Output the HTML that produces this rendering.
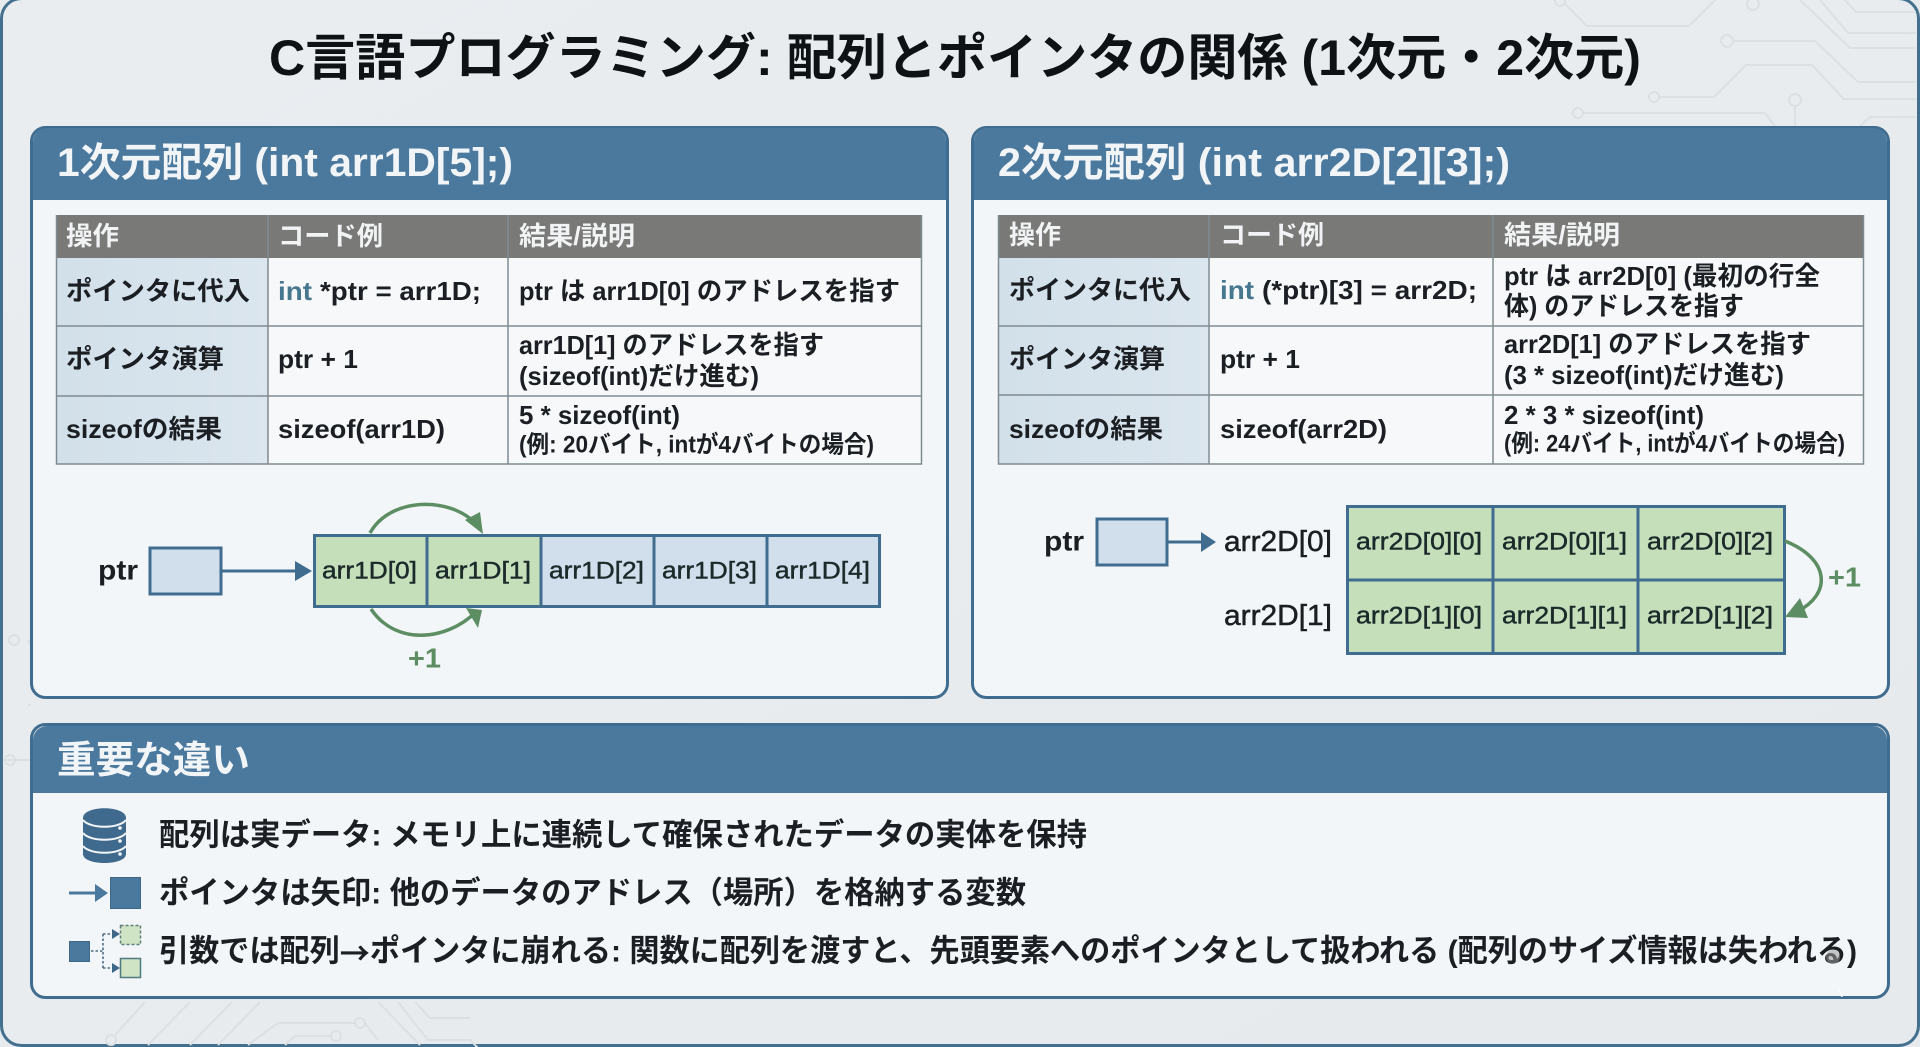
<!DOCTYPE html>
<html lang="ja"><head><meta charset="utf-8"><title>C言語プログラミング</title>
<style>
html,body{margin:0;padding:0;width:1920px;height:1047px;overflow:hidden;background:#e8ebee}
svg{display:block}
text{font-family:"Liberation Sans","Noto Sans CJK JP",sans-serif;font-weight:700;fill:#1b1f23;dominant-baseline:central}
.t{font-size:26px}
.s{font-size:24px}
.h{font-size:26px;fill:#f1f3f4}
.p{font-size:40px;fill:#f1f5f8}
.c{font-size:24px;font-weight:400;fill:#1b2a2a;stroke:#1b2a2a;stroke-width:.45px}
.l{font-size:30px}
.m{font-weight:400;stroke:#1b1f23;stroke-width:.5px}
.g{fill:#5d8d62;font-size:30px}
.tr{fill:none;stroke:#dbe0e4;stroke-width:2}
</style></head><body>
<svg width="1920" height="1047" viewBox="0 0 1920 1047" xmlns="http://www.w3.org/2000/svg">
<defs>
<linearGradient id="fc" x1="0" x2="1" y1="0" y2="0"><stop offset="0" stop-color="#d2e0ea"/><stop offset="1" stop-color="#dbe6ee"/></linearGradient>
<linearGradient id="bg" x1="0" x2="1" y1="0" y2="1"><stop offset="0" stop-color="#e9edf0"/><stop offset="1" stop-color="#e7eaec"/></linearGradient>
</defs>
<rect x="1.5" y="-1.5" width="1917" height="1047" rx="20" fill="url(#bg)" stroke="#44708f" stroke-width="3"/>
<!-- circuit traces -->
<g>
<path class="tr" d="M1565,4L1587,26H1689L1715,0"/><circle class="tr" cx="1560" cy="1" r="5"/><circle class="tr" cx="1753" cy="4" r="6"/>
<path class="tr" d="M1800,0L1850,48H1916M1820,0L1848,33H1916M1845,0L1856,12H1916"/>
<circle class="tr" cx="1727" cy="41" r="6"/><path class="tr" d="M1733,41H1815L1858,82H1916"/>
<circle class="tr" cx="1654" cy="97" r="5"/><path class="tr" d="M1660,97H1714L1746,65H1812L1844,99H1916"/>
<circle class="tr" cx="1578" cy="113" r="5"/><path class="tr" d="M1584,113H1765L1775,126"/><circle class="tr" cx="1795" cy="100" r="6"/><path class="tr" d="M1795,106V126"/><path class="tr" d="M1860,126L1870,117H1916"/>
<path class="tr" d="M145,1002L115,1035"/><circle class="tr" cx="111" cy="1040" r="5"/>
<path class="tr" d="M190,1002L148,1045M232,1002L190,1045M260,1002L218,1045M248,1045L278,1023H355"/><circle class="tr" cx="360" cy="1023" r="5"/>
<path class="tr" d="M285,1045L295,1036H330"/><circle class="tr" cx="336" cy="1036" r="5"/><path class="tr" d="M365,1023L378,1040M378,1002L420,1045M398,1002L428,1040H470L480,1050M415,1002L430,1018H470"/>
<path class="tr" d="M28,640L31,645M28,705H31M5,760H30"/><circle class="tr" cx="14" cy="640" r="5"/><circle class="tr" cx="10" cy="760" r="5"/>
</g>
<text x="269" y="58" style="font-size:50px;fill:#0f1214" textLength="1372" lengthAdjust="spacingAndGlyphs">C言語プログラミング: 配列とポインタの関係 (1次元・2次元)</text>

<!-- Panel 1 -->
<rect x="31.5" y="127.5" width="916" height="570" rx="14" fill="#f3f6f8" stroke="#406d8f" stroke-width="3"/>
<path d="M33,200V142a14,14 0 0 1 14,-14H932a14,14 0 0 1 14,14V200Z" fill="#4b789d"/>
<text class="p" x="57" y="163" textLength="456" lengthAdjust="spacingAndGlyphs">1次元配列 (int arr1D[5];)</text>
<!-- Table 1 -->
<rect x="56" y="215" width="866" height="43" fill="#797978"/>
<rect x="56" y="258" width="212" height="206" fill="url(#fc)"/>
<rect x="268" y="258" width="654" height="206" fill="#f6f8f9"/>
<g stroke="#7f8a91" stroke-width="1.5" fill="none">
<path d="M56.5,215V464H921.5V215M56,326H922M56,396H922M268,215V464M508,215V464"/>
</g>
<text class="h" x="66" y="236" textLength="53" lengthAdjust="spacingAndGlyphs">操作</text>
<text class="h" x="278" y="236" textLength="105" lengthAdjust="spacingAndGlyphs">コード例</text>
<text class="h" x="519" y="236" textLength="116" lengthAdjust="spacingAndGlyphs">結果/説明</text>
<text class="t" x="66" y="291" textLength="184" lengthAdjust="spacingAndGlyphs">ポインタに代入</text>
<text class="t" x="278" y="291" style="fill:#47768f" textLength="34" lengthAdjust="spacingAndGlyphs">int</text>
<text class="t" x="320" y="291" textLength="161" lengthAdjust="spacingAndGlyphs">*ptr = arr1D;</text>
<text class="t" x="519" y="291" textLength="381" lengthAdjust="spacingAndGlyphs">ptr は arr1D[0] のアドレスを指す</text>
<text class="t" x="66" y="359" textLength="158" lengthAdjust="spacingAndGlyphs">ポインタ演算</text>
<text class="t" x="278" y="359" textLength="80" lengthAdjust="spacingAndGlyphs">ptr + 1</text>
<text class="t" x="519" y="345" textLength="305" lengthAdjust="spacingAndGlyphs">arr1D[1] のアドレスを指す</text>
<text class="t" x="519" y="376" textLength="240" lengthAdjust="spacingAndGlyphs">(sizeof(int)だけ進む)</text>
<text class="t" x="66" y="429" textLength="156" lengthAdjust="spacingAndGlyphs">sizeofの結果</text>
<text class="t" x="278" y="429" textLength="167" lengthAdjust="spacingAndGlyphs">sizeof(arr1D)</text>
<text class="t" x="519" y="415" textLength="161" lengthAdjust="spacingAndGlyphs">5 * sizeof(int)</text>
<text class="s" x="519" y="445" textLength="355" lengthAdjust="spacingAndGlyphs">(例: 20バイト, intが4バイトの場合)</text>
<!-- Diagram 1 -->
<text class="l" x="98" y="570" textLength="40" lengthAdjust="spacingAndGlyphs" style="font-size:28px">ptr</text>
<rect x="150" y="548" width="71" height="46" fill="#d0dfeb" stroke="#406d8f" stroke-width="3"/>
<path d="M222,571H300" stroke="#406d8f" stroke-width="3"/><path d="M295,561L312,571L295,581Z" fill="#406d8f"/>
<rect x="314.5" y="535.5" width="112" height="71" fill="#c6dfbb"/>
<rect x="427" y="535.5" width="114" height="71" fill="#c6dfbb"/>
<rect x="541" y="535.5" width="339" height="71" fill="#d0dfeb"/>
<g fill="none" stroke="#406d8f" stroke-width="3"><rect x="314.5" y="535.5" width="565" height="71"/><path d="M427,535V607M541,535V607M654,535V607M767,535V607"/></g>
<g fill="none" stroke="#5d8d62" stroke-width="3.5">
<path d="M370,533C390,497 450,496 476,524"/>
<path d="M371,609C395,645 445,642 476,612"/>
</g>
<path d="M465,520L480,512L483,534Z" fill="#5d8d62"/>
<path d="M466,608L482,610L478,628Z" fill="#5d8d62"/>
<text class="c" x="322" y="571" textLength="95" lengthAdjust="spacingAndGlyphs">arr1D[0]</text>
<text class="c" x="435" y="571" textLength="96" lengthAdjust="spacingAndGlyphs">arr1D[1]</text>
<text class="c" x="549" y="571" textLength="95" lengthAdjust="spacingAndGlyphs">arr1D[2]</text>
<text class="c" x="662" y="571" textLength="95" lengthAdjust="spacingAndGlyphs">arr1D[3]</text>
<text class="c" x="775" y="571" textLength="95" lengthAdjust="spacingAndGlyphs">arr1D[4]</text>
<text x="408" y="658" textLength="33" lengthAdjust="spacingAndGlyphs" style="font-size:28px;fill:#5d8d62">+1</text>

<!-- Panel 2 -->
<rect x="972.5" y="127.5" width="916" height="570" rx="14" fill="#f3f6f8" stroke="#406d8f" stroke-width="3"/>
<path d="M974,200V142a14,14 0 0 1 14,-14H1873a14,14 0 0 1 14,14V200Z" fill="#4b789d"/>
<text class="p" x="998" y="163" textLength="512" lengthAdjust="spacingAndGlyphs">2次元配列 (int arr2D[2][3];)</text>
<!-- Table 2 -->
<rect x="998" y="215" width="866" height="43" fill="#797978"/>
<rect x="998" y="258" width="211" height="206" fill="url(#fc)"/>
<rect x="1209" y="258" width="655" height="206" fill="#f6f8f9"/>
<g stroke="#7f8a91" stroke-width="1.5" fill="none">
<path d="M998.5,215V464H1863.5V215M998,326H1864M998,395H1864M1209,215V464M1493,215V464"/>
</g>
<text class="h" x="1009" y="235" textLength="52" lengthAdjust="spacingAndGlyphs">操作</text>
<text class="h" x="1220" y="235" textLength="104" lengthAdjust="spacingAndGlyphs">コード例</text>
<text class="h" x="1504" y="235" textLength="116" lengthAdjust="spacingAndGlyphs">結果/説明</text>
<text class="t" x="1009" y="290" textLength="182" lengthAdjust="spacingAndGlyphs">ポインタに代入</text>
<text class="t" x="1220" y="290" style="fill:#47768f" textLength="34" lengthAdjust="spacingAndGlyphs">int</text>
<text class="t" x="1262" y="290" textLength="215" lengthAdjust="spacingAndGlyphs">(*ptr)[3] = arr2D;</text>
<text class="t" x="1504" y="276" textLength="316" lengthAdjust="spacingAndGlyphs">ptr は arr2D[0] (最初の行全</text>
<text class="t" x="1504" y="306" textLength="240" lengthAdjust="spacingAndGlyphs">体) のアドレスを指す</text>
<text class="t" x="1009" y="359" textLength="156" lengthAdjust="spacingAndGlyphs">ポインタ演算</text>
<text class="t" x="1220" y="359" textLength="80" lengthAdjust="spacingAndGlyphs">ptr + 1</text>
<text class="t" x="1504" y="344" textLength="307" lengthAdjust="spacingAndGlyphs">arr2D[1] のアドレスを指す</text>
<text class="t" x="1504" y="375" textLength="280" lengthAdjust="spacingAndGlyphs">(3 * sizeof(int)だけ進む)</text>
<text class="t" x="1009" y="429" textLength="154" lengthAdjust="spacingAndGlyphs">sizeofの結果</text>
<text class="t" x="1220" y="429" textLength="167" lengthAdjust="spacingAndGlyphs">sizeof(arr2D)</text>
<text class="t" x="1504" y="415" textLength="200" lengthAdjust="spacingAndGlyphs">2 * 3 * sizeof(int)</text>
<text class="s" x="1504" y="444" textLength="341" lengthAdjust="spacingAndGlyphs">(例: 24バイト, intが4バイトの場合)</text>
<!-- Diagram 2 -->
<text class="l" x="1044" y="541" textLength="40" lengthAdjust="spacingAndGlyphs" style="font-size:28px">ptr</text>
<rect x="1097" y="519" width="70" height="46" fill="#d0dfeb" stroke="#406d8f" stroke-width="3"/>
<path d="M1168,542H1205" stroke="#406d8f" stroke-width="3"/><path d="M1201,532L1216,542L1201,552Z" fill="#406d8f"/>
<text class="l m" x="1224" y="542" textLength="108" lengthAdjust="spacingAndGlyphs" style="font-size:29px">arr2D[0]</text>
<text class="l m" x="1224" y="616" textLength="108" lengthAdjust="spacingAndGlyphs" style="font-size:29px">arr2D[1]</text>
<rect x="1347.5" y="506.5" width="437" height="147" fill="#c6dfbb" stroke="#406d8f" stroke-width="3"/>
<path d="M1493,505V655M1638,505V655M1346,580H1786" stroke="#406d8f" stroke-width="3" fill="none"/>
<text class="c" x="1356" y="542" textLength="126" lengthAdjust="spacingAndGlyphs">arr2D[0][0]</text>
<text class="c" x="1502" y="542" textLength="125" lengthAdjust="spacingAndGlyphs">arr2D[0][1]</text>
<text class="c" x="1647" y="542" textLength="126" lengthAdjust="spacingAndGlyphs">arr2D[0][2]</text>
<text class="c" x="1356" y="616" textLength="126" lengthAdjust="spacingAndGlyphs">arr2D[1][0]</text>
<text class="c" x="1502" y="616" textLength="125" lengthAdjust="spacingAndGlyphs">arr2D[1][1]</text>
<text class="c" x="1647" y="616" textLength="126" lengthAdjust="spacingAndGlyphs">arr2D[1][2]</text>
<path d="M1785,541C1832,560 1830,595 1798,611" fill="none" stroke="#5d8d62" stroke-width="3.5"/>
<path d="M1785,617L1800,598L1808,618Z" fill="#5d8d62"/>
<text x="1828" y="577" textLength="33" lengthAdjust="spacingAndGlyphs" style="font-size:28px;fill:#5d8d62">+1</text>

<!-- Bottom panel -->
<rect x="31.5" y="724.5" width="1857" height="273" rx="14" fill="#f3f6f8" stroke="#406d8f" stroke-width="3"/>
<path d="M33,793V740a14,14 0 0 1 14,-14H1873a14,14 0 0 1 14,14V793Z" fill="#4b789d"/>
<text class="p" x="57" y="761" textLength="193" lengthAdjust="spacingAndGlyphs" style="font-size:38px">重要な違い</text>
<!-- DB icon -->
<g>
<path d="M83,818C83,805 126,805 126,818V854C126,866 83,866 83,854Z" fill="#3f6a8d"/>
<g fill="none" stroke="#f3f6f8" stroke-width="2"><path d="M83,820C90,829 119,829 126,820"/><path d="M83,833C90,842 119,842 126,833"/><path d="M83,846C90,855 119,855 126,846"/></g>
<g fill="#f3f6f8"><circle cx="120" cy="828" r="1.8"/><circle cx="120" cy="841" r="1.8"/><circle cx="120" cy="854" r="1.8"/></g>
</g>
<!-- pointer icon -->
<path d="M69,893H98" stroke="#4b789d" stroke-width="3"/><path d="M95,884L108,893L95,902Z" fill="#4b789d"/>
<rect x="110.5" y="877.5" width="30" height="31" fill="#4b789d" stroke="#3d6888"/>
<!-- decay icon -->
<rect x="69.5" y="941.5" width="20" height="20" fill="#4b789d" stroke="#3d6888"/>
<path d="M91,951H103M103,934V968M103,934H112M103,968H112" stroke="#4b6d88" stroke-width="1.6" stroke-dasharray="2.5 2" fill="none"/>
<path d="M112,929L120,934L112,939ZM112,963L120,968L112,973Z" fill="#3d6888"/>
<rect x="120.5" y="925.5" width="20" height="19" fill="#cfe3c5" stroke="#5f7e7a" stroke-width="1.5" stroke-dasharray="3 2"/>
<rect x="120.5" y="958.5" width="20" height="19" fill="#cfe3c5" stroke="#4f7a80" stroke-width="1.5"/>
<text class="l" x="159" y="835" textLength="928" lengthAdjust="spacingAndGlyphs" style="font-size:31px">配列は実データ: メモリ上に連続して確保されたデータの実体を保持</text>
<text class="l" x="159" y="893" textLength="867" lengthAdjust="spacingAndGlyphs" style="font-size:31px">ポインタは矢印: 他のデータのアドレス（場所）を格納する変数</text>
<text class="l" x="159" y="951" textLength="1698" lengthAdjust="spacingAndGlyphs" style="font-size:31px">引数では配列<tspan style="font-family:'Noto Sans CJK JP',sans-serif">→</tspan>ポインタに崩れる: 関数に配列を渡すと、先頭要素へのポインタとして扱われる (配列のサイズ情報は失われる)</text>
<circle cx="1833" cy="957" r="7" fill="#9a9a9a" opacity=".55"/>
<path d="M1837,984L1843,997H1841Z" fill="#ffffff" opacity=".8"/>
</svg>
</body></html>
